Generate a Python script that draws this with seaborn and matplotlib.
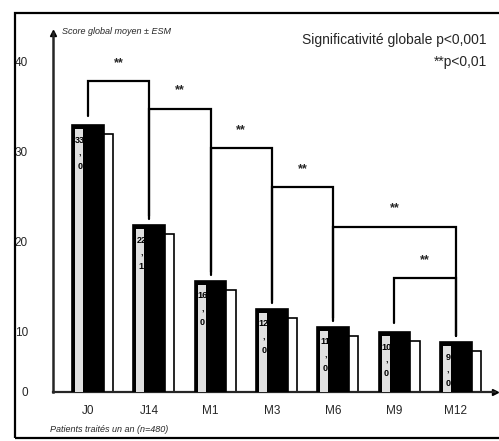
import numpy as np
import pandas as pd
import matplotlib
matplotlib.use("Agg")
import matplotlib.pyplot as plt
from matplotlib.patches import Rectangle
import seaborn as sns

# ========== DONNEES ==========
visites = ['J0', 'J14', 'M1', 'M3', 'M6', 'M9', 'M12']
scores = [33.0, 21.9, 15.7, 12.6, 10.6, 10.0, 8.9]
etiquettes = ['33', '22', '16', '12', '11', '10', '9']
decimales = ['0', '1', '0', '0', '0', '0', '0']

# comparaisons (barre gauche, barre droite, hauteur du crochet)
comparaisons = [(0, 1, 37.9), (1, 2, 34.8), (2, 3, 30.4),
                (3, 4, 26.1), (4, 6, 21.7), (5, 6, 16.0)]
signif = ['**', '**', '**', '**', '**', '**']

df = pd.DataFrame({'visite': visites, 'score': scores})

# ========== FIGURE ==========
sns.set_style('white')
plt.rcParams['font.family'] = ['Liberation Sans', 'DejaVu Sans']

fig = plt.figure(figsize=(4.99, 4.41), dpi=100)
ax = fig.add_axes([53 / 499, 1 - 392 / 441, 442 / 499, 359 / 441])

largeur = 0.52
sns.barplot(data=df, x='visite', y='score', color='black', width=largeur,
            edgecolor='black', linewidth=1.2, saturation=1, ax=ax, zorder=3)

# ombre (effet 3D) + bande claire a gauche
for p, v, et, dec in zip(ax.patches, scores, etiquettes, decimales):
    x0 = p.get_x()
    ax.add_patch(Rectangle((x0 + 0.15, 0), largeur, v - 1.0, facecolor='white',
                           edgecolor='black', linewidth=1.2, zorder=2))
    ax.add_patch(Rectangle((x0 + 0.05, 0), 0.13, v - 0.5, facecolor='0.88',
                           edgecolor='none', zorder=4))
    ax.text(x0 + 0.13, v - 1.2, et + '\n,\n' + dec, ha='center', va='top',
            fontsize=6.5, fontweight='bold', color='black', linespacing=1.6, zorder=5)

# crochets de significativite
for (i, j, niveau), s in zip(comparaisons, signif):
    bas_g = scores[i] + 1.0
    bas_d = scores[j] + 0.6
    ax.plot([i, i, j, j], [bas_g, niveau, niveau, bas_d], color='black',
            lw=1.6, solid_joinstyle='miter', zorder=6)
    ax.text((i + j) / 2, niveau + 2.0, s, ha='center', va='center',
            fontsize=9, fontweight='bold')

# axes
ax.set_xlim(-0.57, 6.64)
ax.set_ylim(3.33, 43.2)
ax.set_yticks([3.33, 10, 20, 30, 40])
ax.set_yticklabels(['0', '10', '20', '30', '40'])
ax.set_xlabel('')
ax.set_ylabel('')
sns.despine(ax=ax)
ax.spines['left'].set_linewidth(1.8)
ax.spines['bottom'].set_linewidth(1.6)
ax.tick_params(axis='y', direction='out', length=4, width=1.2, pad=14, labelsize=8.5)
ax.tick_params(axis='x', direction='out', length=7, width=1.2, pad=2, labelsize=8.5)
ax.plot(0, 1, '^k', markersize=5, transform=ax.transAxes, clip_on=False)
ax.plot(1, 0, '>k', markersize=5, transform=ax.transAxes, clip_on=False)

# cadre
fig.patches.append(Rectangle((15 / 499, 1 - 438 / 441), 500 / 499, 425 / 441,
                             transform=fig.transFigure, fill=False,
                             edgecolor='black', linewidth=1.6))

# textes
fig.text(62 / 499, 1 - 31 / 441, 'Score global moyen ± ESM', fontsize=6.5,
         style='italic', ha='left', va='center')
fig.text(487 / 499, 1 - 40 / 441, 'Significativité globale p<0,001', fontsize=10,
         ha='right', va='center')
fig.text(487 / 499, 1 - 62 / 441, '**p<0,01', fontsize=10, ha='right', va='center')
fig.text(50 / 499, 1 - 429 / 441, 'Patients traités un an (n=480)', fontsize=6.5,
         style='italic', ha='left', va='center')

fig.savefig('out.png', dpi=100)
